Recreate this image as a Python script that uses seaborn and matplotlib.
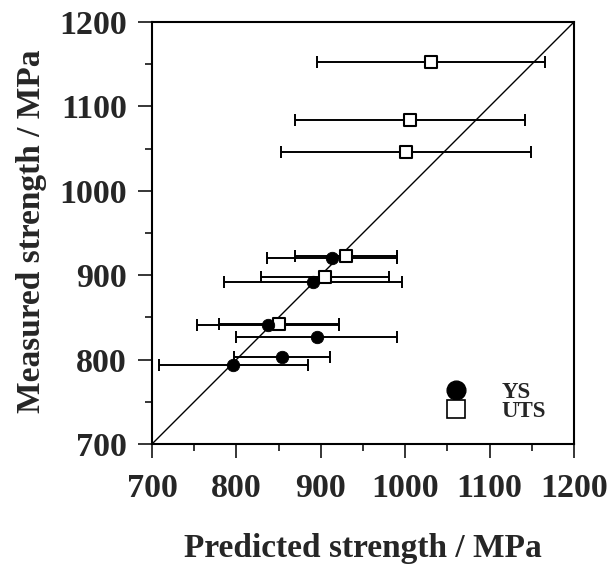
import matplotlib
matplotlib.use("Agg")
import matplotlib.pyplot as plt
import seaborn as sns
import pandas as pd

# Yield strength (YS): predicted value, predicted uncertainty, measured value
ys_pred = [912.9, 890.8, 837.8, 895.1, 853.6, 796.4]
ys_err = [77, 105, 84, 95, 57, 88]
ys_meas = [920.7, 891.6, 841.0, 826.4, 802.7, 793.6]

# Ultimate tensile strength (UTS)
uts_pred = [1030.6, 1005.7, 1001.0, 929.9, 905.0, 850.9]
uts_err = [135, 136, 148, 60, 76, 71]
uts_meas = [1153.0, 1083.9, 1046.3, 922.7, 897.5, 842.2]

ticks = [700, 800, 900, 1000, 1100, 1200]
minor_ticks = [750, 850, 950, 1050, 1150]
series_names = ["YS", "UTS"]

sns.set_theme(style="ticks")
plt.rcParams["font.family"] = ["Liberation Serif", "DejaVu Serif"]
plt.rcParams["font.weight"] = "bold"

df = pd.DataFrame({
    "pred": ys_pred + uts_pred,
    "meas": ys_meas + uts_meas,
    "err": ys_err + uts_err,
    "kind": ["YS"] * len(ys_pred) + ["UTS"] * len(uts_pred),
})

fig = plt.figure(figsize=(6.08, 5.67), dpi=100)
ax = fig.add_axes([152 / 608, 1 - 444 / 567, 422 / 608, 422 / 567])

# 1:1 reference line
ax.plot([700, 1200], [700, 1200], color="black", lw=1.0, zorder=1)

# horizontal uncertainty bars
for kind in series_names:
    sub = df[df["kind"] == kind]
    ax.errorbar(sub["pred"], sub["meas"], xerr=sub["err"], fmt="none",
                ecolor="black", elinewidth=1.4, capsize=4, capthick=1.4, zorder=2)

sns.scatterplot(data=df[df["kind"] == "YS"], x="pred", y="meas", ax=ax,
                marker="o", s=80, color="black", edgecolor="black",
                linewidth=0.6, zorder=4, legend=False)
sns.scatterplot(data=df[df["kind"] == "UTS"], x="pred", y="meas", ax=ax,
                marker="s", s=66, facecolor="white", edgecolor="black",
                linewidth=1.5, zorder=3, legend=False)

ax.set_xlim(700, 1200)
ax.set_ylim(700, 1200)
ax.set_xticks(ticks)
ax.set_yticks(ticks)
ax.set_xticks(minor_ticks, minor=True)
ax.set_yticks(minor_ticks, minor=True)
ax.tick_params(which="major", direction="out", length=10, width=1.3,
               labelsize=24.5)
ax.tick_params(axis="x", which="major", pad=11)
ax.tick_params(axis="y", which="major", pad=8)
ax.tick_params(which="minor", direction="out", length=5, width=1.3)
for lab in ax.get_xticklabels() + ax.get_yticklabels():
    lab.set_fontweight("bold")
for sp in ax.spines.values():
    sp.set_linewidth(1.5)
    sp.set_color("black")

ax.set_xlabel("Predicted strength / MPa", fontsize=24, fontweight="bold")
ax.set_ylabel("Measured strength / MPa", fontsize=24, fontweight="bold")
ax.xaxis.set_label_coords(0.5, -0.212)
ax.yaxis.set_label_coords(-0.248, 0.505)

# compact legend drawn in axes coordinates
key_rows = [0.128, 0.083]
ax.plot([0.72], [key_rows[0]], transform=ax.transAxes, marker="o",
        ls="none", color="black", markersize=13.5, clip_on=False)
ax.plot([0.72], [key_rows[1]], transform=ax.transAxes, marker="s",
        ls="none", markerfacecolor="white", markeredgecolor="black",
        markeredgewidth=1.2, markersize=13, clip_on=False)
for name, yy in zip(series_names, key_rows):
    ax.text(0.828, yy, name, transform=ax.transAxes, fontsize=16.5,
            fontweight="bold", va="center_baseline", ha="left")

fig.savefig("out.png", dpi=100)
